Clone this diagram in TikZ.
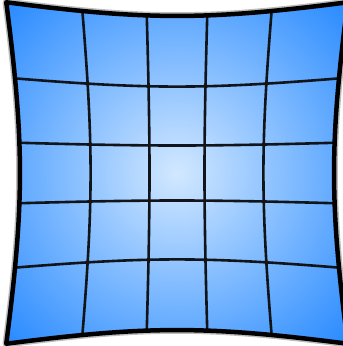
\documentclass[tikz,border=0pt]{standalone}
\usepackage{tikz}
\usetikzlibrary{calc}
\definecolor{ink}{HTML}{111418}
\definecolor{paleblue}{RGB}{210,232,255}
\definecolor{deepblue}{RGB}{22,128,255}
\definecolor{halo}{HTML}{BDBDBD}
\pgfdeclareradialshading{lens}{\pgfpoint{0bp}{0bp}}{color(0bp)=(paleblue); color(39bp)=(deepblue); color(60bp)=(deepblue)}
\tikzset{
  warp/.style={declare function={
      px(\u,\v)=177+136.7*\u*(1+0.149*\u*\u+0.1*\v*\v);
      py(\u,\v)=173+136.7*\v*(1+0.149*\v*\v+0.1*\u*\u);}},
  gridline/.style={draw=ink,line width=2.6pt},
  rim/.style={draw=black,line width=4.5pt,line join=round},
  haloline/.style={draw=halo,line width=7.5pt,line join=round}}
% outline of the distorted square
\newcommand{\lensoutline}{plot[domain=-1:1] ({px(\x,-1)},{py(\x,-1)})
  -- plot[domain=-1:1] ({px(1,\x)},{py(1,\x)})
  -- plot[domain=1:-1] ({px(\x,1)},{py(\x,1)})
  -- plot[domain=1:-1] ({px(-1,\x)},{py(-1,\x)}) -- cycle}
\begin{document}
\begin{tikzpicture}[x=1pt,y=-1pt,warp,samples=41,smooth]
  \useasboundingbox (0,0) rectangle (343,346);
  \path[haloline] \lensoutline;
  \path[shading=lens] \lensoutline;
  \foreach \g in {-0.6,-0.2,0.2,0.6}{
    \draw[gridline] plot[domain=-1:1] ({px(\g,\x)},{py(\g,\x)});
    \draw[gridline] plot[domain=-1:1] ({px(\x,\g)},{py(\x,\g)});
  }
  \path[rim] \lensoutline;
\end{tikzpicture}
\end{document}
